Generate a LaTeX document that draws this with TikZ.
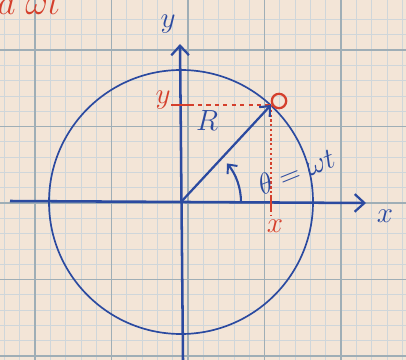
\documentclass[tikz,border=0pt]{standalone}
\usepackage{amsmath,amssymb}
\usetikzlibrary{arrows.meta, positioning, calc}
\definecolor{inkblue}{HTML}{2B4AA0}
\definecolor{inkred}{HTML}{D43F2C}
\definecolor{paper}{HTML}{F3E5D7}
\definecolor{gridline}{HTML}{9FAEB6}
\tikzset{
    bluelabel/.style={text=inkblue, font=\fontsize{22}{24}\selectfont, inner sep=1pt},
    redlabel/.style={text=inkred, font=\fontsize{22}{24}\selectfont, inner sep=1pt},
    axis/.style={draw=inkblue, line width=1.8pt, -{Straight Barb[length=2.4mm, width=4.4mm, line width=1.6pt]}},
    vector/.style={draw=inkblue, line width=1.6pt, -{Straight Barb[length=2mm, width=3.6mm, line width=1.5pt]}},
    anglearrow/.style={draw=inkblue, line width=1.5pt, -{Straight Barb[length=1.8mm, width=3.2mm, line width=1.4pt]}},
    ring/.style={draw=inkblue, line width=1.2pt},
    projline/.style={draw=inkred, line width=1.6pt, dash pattern=on 3pt off 3pt},
    dotline/.style={draw=inkred, line width=1.6pt, dash pattern=on 1.6pt off 1.8pt},
    redtick/.style={draw=inkred, line width=1.6pt},
    redpoint/.style={circle, draw=inkred, line width=1.6pt, minimum size=0.36cm, inner sep=0pt},
    majorgrid/.style={draw=gridline, line width=0.9pt},
    minorgrid/.style={draw=gridline!50, line width=0.45pt}
}
\begin{document}
\begin{tikzpicture}[x=0.025cm, y=-0.025cm]
    \useasboundingbox (0,0) rectangle (406,360);
    \clip (0,0) rectangle (406,360);
    % graph paper
    \fill[paper] (0,0) rectangle (406,360);
    \foreach \i in {-2,...,26} {
        \draw[minorgrid] ({35+15.3*\i},0) -- ({35+15.3*\i},360);
        \draw[minorgrid] (0,{50+15.3*\i}) -- (406,{50+15.3*\i});
    }
    \foreach \i in {0,...,5} {
        \draw[majorgrid] ({35+76.5*\i},0) -- ({35+76.5*\i},360);
        \draw[majorgrid] (0,{50+76.5*\i}) -- (406,{50+76.5*\i});
    }
    % points
    \coordinate (O) at (181,202);
    \coordinate (P) at (271,105);
    \coordinate (xl) at (10,201);
    \coordinate (xr) at (366,203);
    \coordinate (yb) at (183,360);
    \coordinate (yt) at (180,44);
    \coordinate (Py) at (O |- P);
    \coordinate (Px) at (P |- O);
    % circle and axes
    \draw[ring] (O) circle[radius=132];
    \draw[axis] (xl) -- (xr);
    \draw[axis] (yb) -- (yt);
    % projections
    \draw[projline] (Py) -- (P);
    \draw[dotline] (P) -- ($(Px)+(0,14)$);
    \draw[redtick] ($(Py)+(-10,0)$) -- ($(Py)+(9,0)$);
    \draw[redtick] ($(Px)+(0,-7)$) -- ($(Px)+(0,8)$);
    \node[redpoint] (pt) at ($(P)+(8,-4)$) {};
    % radius and angle
    \draw[vector] (O) -- (P);
    \draw[anglearrow] ($(O)+(60,0)$) arc[start angle=0, end angle=-40, radius=60];
    % labels
    \node[bluelabel] (ylab) at (168,24) {$y$};
    \node[bluelabel] (xlab) at (385,216) {$x$};
    \node[redlabel] (yred) at (163,100) {$y$};
    \node[redlabel] (xred) at (275,226) {$x$};
    \node[bluelabel] (rlab) at (207,121) {$R$};
    \node[bluelabel, font=\fontsize{20}{22}\selectfont, rotate=22] (ang) at (296,171) {$\theta=\omega t$};
    \node[redlabel, font=\fontsize{28}{30}\selectfont, anchor=base west] (top) at (-4,15) {$a\;\omega t$};
\end{tikzpicture}
\end{document}
